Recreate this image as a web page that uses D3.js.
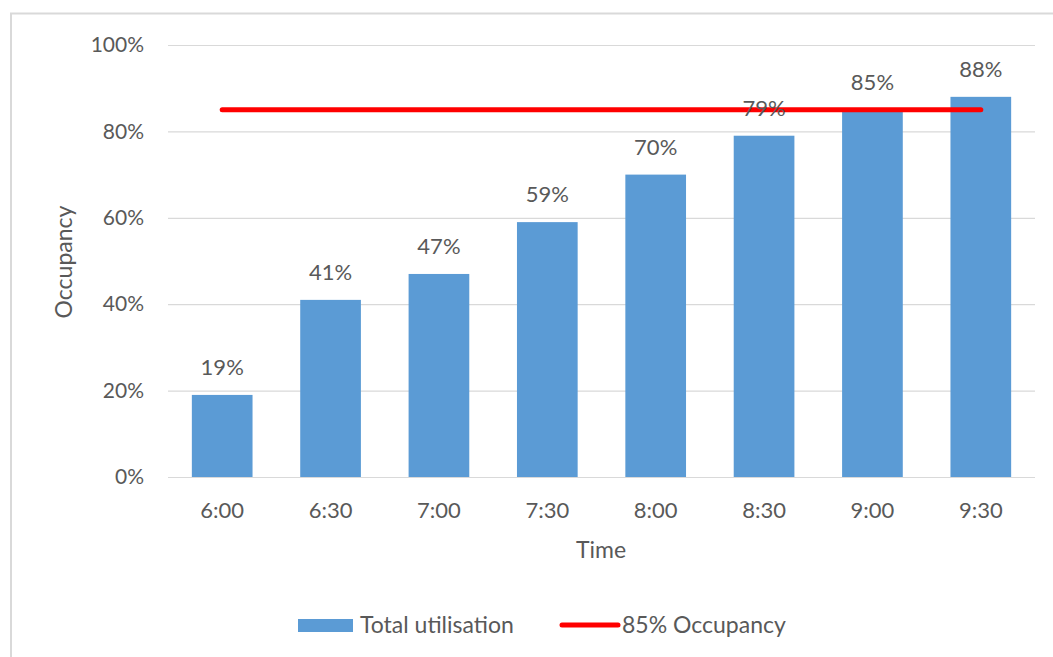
<!DOCTYPE html>
<html>
<head>
<meta charset="utf-8">
<script src="https://cdn.jsdelivr.net/npm/d3@7"></script>
<style>
  html, body { margin: 0; padding: 0; background: #fff; }
  svg { display: block; }
  text { font-family: Lato, "Open Sans", sans-serif; fill: #595959; }
</style>
</head>
<body>
<svg id="chart" width="1053" height="657"></svg>
<script>
const categories = ["6:00", "6:30", "7:00", "7:30", "8:00", "8:30", "9:00", "9:30"];
const utilisation = [0.19, 0.41, 0.47, 0.59, 0.70, 0.79, 0.85, 0.88];
const threshold = [0.85, 0.85, 0.85, 0.85, 0.85, 0.85, 0.85, 0.85];
const yTicks = [0, 0.2, 0.4, 0.6, 0.8, 1.0];
const seriesNames = ["Total utilisation", "85% Occupancy"];

const svg = d3.select("#chart");
const W = 1053, H = 657;
const m = { left: 168, right: 1035, top: 45, bottom: 477 };

// outer frame (top and left edges visible)
svg.append("path")
  .attr("d", `M11,${H} L11,13.5 L${W},13.5`)
  .attr("fill", "none").attr("stroke", "#d9d9d9").attr("stroke-width", 2);

const x = d3.scaleBand().domain(categories).range([m.left, m.right]).paddingInner(0.44).paddingOuter(0.22);
const y = d3.scaleLinear().domain([0, 1]).range([m.bottom, m.top]);

// gridlines + y axis
const yAxis = d3.axisLeft(y).tickValues(yTicks).tickFormat(d3.format(".0%")).tickSize(-(m.right - m.left)).tickPadding(24);
const gy = svg.append("g").attr("transform", `translate(${m.left},0)`).call(yAxis);
gy.select(".domain").remove();
gy.selectAll(".tick line").attr("stroke", "#d9d9d9").attr("stroke-width", 1.2);
gy.selectAll(".tick text").attr("font-size", 21).attr("fill", "#595959").style("font-family", "Lato, sans-serif");

// bars
svg.append("g").selectAll("rect").data(utilisation).join("rect")
  .attr("x", (d, i) => x(categories[i]))
  .attr("y", d => y(d))
  .attr("width", x.bandwidth())
  .attr("height", d => y(0) - y(d))
  .attr("fill", "#5b9bd5");

// x axis
const xAxis = d3.axisBottom(x).tickSize(0).tickPadding(25);
const gx = svg.append("g").attr("transform", `translate(0,${m.bottom})`).call(xAxis);
gx.select(".domain").attr("stroke", "#d9d9d9").attr("stroke-width", 1.2)
  .attr("d", `M${m.left},0.5H${m.right}`);
gx.selectAll(".tick text").attr("font-size", 22).attr("fill", "#595959").style("font-family", "Lato, sans-serif");

// threshold line
const line = d3.line().x((d, i) => x(categories[i]) + x.bandwidth() / 2).y(d => y(d));
svg.append("path").datum(threshold)
  .attr("d", line).attr("fill", "none").attr("stroke", "#ff0000")
  .attr("stroke-width", 5).attr("stroke-linecap", "round");

// data labels
svg.append("g").selectAll("text").data(utilisation).join("text")
  .attr("x", (d, i) => x(categories[i]) + x.bandwidth() / 2)
  .attr("y", d => y(d) - 20)
  .attr("text-anchor", "middle")
  .attr("font-size", 22)
  .text(d => d3.format(".0%")(d));

// axis titles
svg.append("text").attr("x", 601).attr("y", 558).attr("text-anchor", "middle")
  .attr("font-size", 23).text("Time");
svg.append("text").attr("transform", "translate(72,262) rotate(-90)").attr("text-anchor", "middle")
  .attr("font-size", 23).text("Occupancy");

// legend
const lg = svg.append("g");
lg.append("rect").attr("x", 298).attr("y", 619).attr("width", 55).attr("height", 13).attr("fill", "#5b9bd5");
lg.append("text").attr("x", 360).attr("y", 633).attr("font-size", 23).text(seriesNames[0]);
lg.append("line").attr("x1", 562).attr("x2", 618).attr("y1", 625).attr("y2", 625)
  .attr("stroke", "#ff0000").attr("stroke-width", 5).attr("stroke-linecap", "round");
lg.append("text").attr("x", 622).attr("y", 633).attr("font-size", 23).text(seriesNames[1]);
</script>
</body>
</html>
